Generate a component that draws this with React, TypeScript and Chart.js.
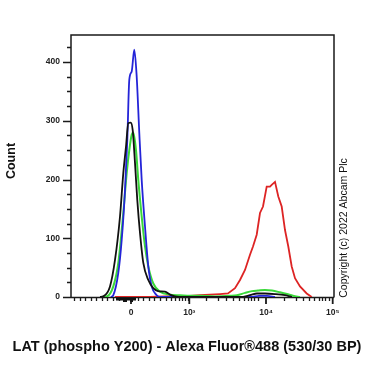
import React, { useEffect, useRef } from "react";
import { Chart, registerables } from "chart.js";

Chart.register(...registerables);

// Display channel positions (logicle-like display units, 0..263) of axis ticks
const xMajorTicks = [60, 118.3, 195, 261.7];
const xMajorLabels = ["0", "10³", "10⁴", "10⁵"];
const xMinorTicks = [
  3, 8.5, 14, 19.7, 25, 30.7, 36.3, 42, 47.7, 53.3,
  66.7, 72.3, 77.7, 83.3, 89, 95, 100, 104.3, 107.7, 111, 114.3, 116.7,
  135, 146.7, 155, 161.7, 168.3, 173.3, 176.7, 180, 183.3, 186.7,
  213.3, 225, 231.7, 238.3, 243.3, 247.7, 251, 254.3, 257.7,
];
const yLabelTicks = [0, 100, 200, 300, 400];

// Histograms: channel positions and counts
const blueX = [40, 42.3, 47.3, 50.7, 54, 56.3, 58.3, 60.7, 63.3, 65.7, 68.3, 70.7, 74, 77.3, 80.7, 85.7, 89, 180, 188, 196, 204];
const blueY = [0, 3, 41, 97, 182, 267, 370, 384, 421, 375, 279, 199, 120, 52, 18, 3, 0, 0, 2, 2, 0];

const blackX = [29, 32.3, 39, 44, 49, 52.3, 55, 57.3, 59.7, 61.7, 64, 66.3, 69, 72.3, 77.3, 82.3, 87, 94, 99, 104, 114, 169, 179, 186, 194, 204, 214, 221];
const blackY = [0, 1, 18, 63, 137, 211, 256, 296, 297, 284, 228, 165, 109, 58, 29, 15, 10, 9, 4, 1, 0, 0, 3, 6, 6, 5, 3, 0];

const greenX = [29, 35.7, 42.3, 47.3, 52.3, 55.7, 58.3, 60.7, 62.3, 65, 67.3, 70.7, 74, 77.3, 82.3, 89, 99, 109, 119, 129, 144, 159, 166, 174, 181, 187, 194, 201, 209, 216, 222, 229];
const greenY = [0, 1, 18, 58, 143, 211, 250, 276, 280, 250, 199, 137, 86, 52, 23, 9, 4, 3, 2, 2, 1, 2, 3, 7, 10, 11, 12, 11, 8, 5, 2, 0];

const redX = [44, 79, 94, 104, 119, 129, 139, 149, 157, 164, 169, 174, 179, 182, 185.7, 189, 192, 195.7, 199, 200.7, 204, 207.3, 210.7, 214, 217.3, 220.7, 224, 229, 235.7, 240.7];
const redY = [0, 0, 1, 2, 2, 3, 4, 5, 6, 15, 29, 46, 72, 86, 106, 143, 154, 188, 188, 191, 196, 171, 154, 114, 86, 52, 32, 18, 6, 0];

const xTitle = "LAT (phospho Y200) - Alexa Fluor®488 (530/30 BP)";
const yTitle = "Count";
const copyright = "Copyright (c) 2022 Abcam Plc";

const pts = (xs: number[], ys: number[]) => xs.map((x, i) => ({ x, y: ys[i] }));

const decorPlugin = {
  id: "decor",
  beforeDatasetsDraw(chart: any) {
    const { ctx, chartArea } = chart;
    const xs = chart.scales.x;
    const ys = chart.scales.y;
    const { left, right, top, bottom } = chartArea;
    ctx.save();
    ctx.strokeStyle = "#1a1a1a";
    ctx.lineWidth = 1.5;
    ctx.beginPath();
    ctx.moveTo(left, bottom + 0.5);
    ctx.lineTo(left, top);
    ctx.lineTo(right, top);
    ctx.lineTo(right, bottom + 0.5);
    ctx.moveTo(left, bottom + 0.5);
    ctx.lineTo(right, bottom + 0.5);
    ctx.stroke();
    // y ticks
    ctx.lineWidth = 1.3;
    ctx.beginPath();
    for (let v = 0; v <= ys.max; v += 25) {
      const p = Math.round(ys.getPixelForValue(v)) + 0.5;
      const len = v % 100 === 0 ? 8 : 4;
      ctx.moveTo(left, p);
      ctx.lineTo(left - len, p);
    }
    ctx.stroke();
    // x ticks
    ctx.beginPath();
    xMinorTicks.forEach((v) => {
      const p = Math.round(xs.getPixelForValue(v)) + 0.5;
      ctx.moveTo(p, bottom);
      ctx.lineTo(p, bottom + 4);
    });
    ctx.stroke();
    ctx.lineWidth = 1.8;
    ctx.beginPath();
    xMajorTicks.forEach((v) => {
      const p = xs.getPixelForValue(v);
      ctx.moveTo(p, bottom);
      ctx.lineTo(p, bottom + 7);
    });
    ctx.stroke();
    // dense low-channel events pile below axis
    ctx.fillStyle = "#111";
    const a = xs.getPixelForValue(45);
    const b = xs.getPixelForValue(65);
    ctx.fillRect(a, bottom + 1, b - a, 2.5);
    ctx.fillRect(xs.getPixelForValue(52), bottom + 3, 4, 2);
    ctx.fillRect(xs.getPixelForValue(59), bottom + 3, 3, 2);
    ctx.restore();
  },
  afterDraw(chart: any) {
    const { ctx } = chart;
    ctx.save();
    ctx.fillStyle = "#111";
    ctx.textAlign = "center";
    ctx.textBaseline = "middle";
    ctx.font = "bold 14.5px 'Liberation Sans', Arial, sans-serif";
    ctx.fillText(xTitle, 187, 347);
    ctx.translate(12, 161);
    ctx.rotate(-Math.PI / 2);
    ctx.font = "bold 12.5px 'Liberation Sans', Arial, sans-serif";
    ctx.fillText(yTitle, 0, 0);
    ctx.restore();
    ctx.save();
    ctx.fillStyle = "#111";
    ctx.textAlign = "center";
    ctx.textBaseline = "middle";
    ctx.translate(344, 228);
    ctx.rotate(-Math.PI / 2);
    ctx.font = "10.5px 'Liberation Sans', Arial, sans-serif";
    ctx.fillText(copyright, 0, 0);
    ctx.restore();
  },
};

export default function App() {
  const ref = useRef<HTMLCanvasElement | null>(null);
  useEffect(() => {
    if (!ref.current) return;
    const line = (label: string, data: any[], color: string, order: number, width = 1.8, mono = true) => ({
      label,
      data,
      borderColor: color,
      backgroundColor: color,
      borderWidth: width,
      pointRadius: 0,
      fill: false,
      order,
      cubicInterpolationMode: mono ? "monotone" : "default",
      tension: mono ? 0.4 : 0,
    });
    const chart = new Chart(ref.current, {
      type: "line",
      data: {
        datasets: [
          line("Blue", pts(blueX, blueY), "#2424d8", 2),
          line("Black", pts(blackX, blackY), "#111111", 1),
          line("Green", pts(greenX, greenY), "#3ad83a", 3, 2),
          line("Red", pts(redX, redY), "#dd2424", 4, 1.8, false),
        ] as any,
      },
      options: {
        animation: false,
        responsive: false,
        devicePixelRatio: 1,
        parsing: true,
        layout: { padding: { left: 0, top: 35, right: 34, bottom: 0 } },
        plugins: { legend: { display: false }, tooltip: { enabled: false } },
        scales: {
          x: {
            type: "linear",
            min: 0,
            max: 263,
            grid: { display: false, drawTicks: false },
            border: { display: false },
            afterBuildTicks: (s: any) => {
              s.ticks = xMajorTicks.map((v) => ({ value: v }));
            },
            afterFit: (s: any) => {
              s.height = 71;
            },
            ticks: {
              autoSkip: false,
              maxRotation: 0,
              padding: 11,
              color: "#222",
              font: { size: 8.5, weight: "bold", family: "'Liberation Sans', Arial, sans-serif" },
              callback: (v: any) => {
                const i = xMajorTicks.indexOf(Number(v));
                return i >= 0 ? xMajorLabels[i] : "";
              },
            },
          },
          y: {
            type: "linear",
            min: 0,
            max: 446,
            grid: { display: false, drawTicks: false },
            border: { display: false },
            afterBuildTicks: (s: any) => {
              s.ticks = yLabelTicks.map((v) => ({ value: v }));
            },
            afterFit: (s: any) => {
              s.width = 71;
            },
            ticks: {
              autoSkip: false,
              padding: 11,
              color: "#222",
              font: { size: 8.5, weight: "bold", family: "'Liberation Sans', Arial, sans-serif" },
            },
          },
        },
      } as any,
      plugins: [decorPlugin],
    });
    return () => chart.destroy();
  }, []);
  return (
    <div style={{ position: "absolute", left: 0, top: 0, width: 368, height: 368, background: "#fff" }}>
      <canvas ref={ref} width={368} height={368} style={{ display: "block", width: 368, height: 368 }} />
    </div>
  );
}
